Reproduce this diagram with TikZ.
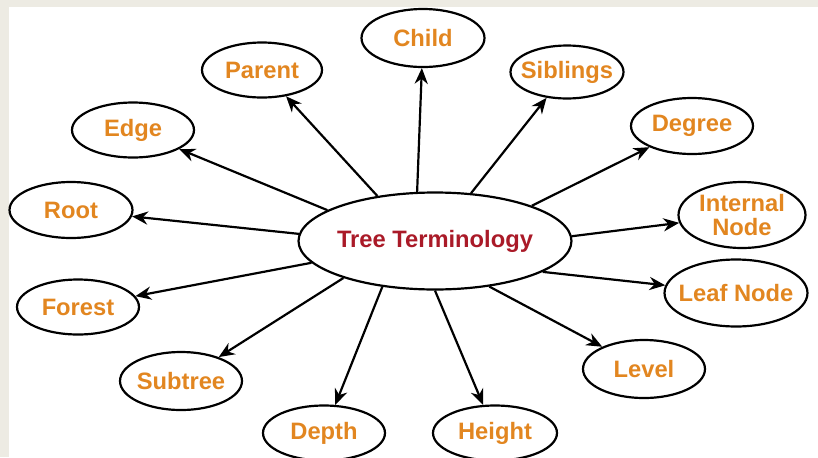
\documentclass[tikz,border=0pt]{standalone}
\usepackage{fontspec}
\setmainfont{Liberation Sans}
\usetikzlibrary{arrows.meta,shapes.geometric}

\definecolor{termorange}{RGB}{226,134,32}
\definecolor{termred}{RGB}{170,26,40}
\definecolor{pagegray}{RGB}{237,235,227}

\begin{document}
\begin{tikzpicture}[>={Stealth[length=9pt,width=7.5pt]}, x=0.02cm, y=-0.02cm,
  every node/.style={font=\bfseries\fontsize{13.5}{14}\selectfont},
  term/.style={ellipse, draw, line width=1.25pt, text=termorange,
    minimum width=2.44cm, minimum height=1.1cm, inner xsep=-20pt, inner ysep=-4pt, align=center}]
  \fill[pagegray] (0,0) rectangle (818,457);
  \fill[white] (9,7) rectangle (818,457);
  \useasboundingbox (0,0) rectangle (818,457);
  \node[ellipse, draw, line width=1.25pt, text=termred, minimum width=5.46cm,
    minimum height=1.94cm, inner xsep=-3pt, inner ysep=0pt] (tt) at (435,241) {Tree Terminology};
  \node[term, minimum width=2.46cm, minimum height=1.16cm] (child) at (423,38) {Child};
  \node[term, minimum width=2.4cm] (parent) at (262,70) {Parent};
  \node[term, minimum width=2.26cm, minimum height=1.06cm] (siblings) at (567,72) {Siblings};
  \node[term] (edge) at (133,130) {Edge};
  \node[term, minimum height=1.12cm] (degree) at (692,126) {Degree};
  \node[term, minimum width=2.46cm, minimum height=1.12cm] (root) at (71,210) {Root};
  \node[term, minimum width=2.54cm, minimum height=1.32cm] (internal) at (742,215) {Internal\\Node};
  \node[term] (forest) at (78,307) {Forest};
  \node[term, minimum width=2.86cm, minimum height=1.34cm] (leaf) at (736,293) {Leaf Node};
  \node[term, minimum height=1.16cm] (subtree) at (181,381) {Subtree};
  \node[term, minimum height=1.16cm] (level) at (644,369) {Level};
  \node[term, minimum height=1.1cm] (depth) at (324,433) {Depth};
  \node[term, minimum width=2.48cm, minimum height=1.1cm] (height) at (495,433) {Height};
  \foreach \a/\n in {110/child,142/parent,53/siblings,164/edge,20/degree,177/root,
    2/internal,190/forest,344/leaf,202/subtree,320/level,221/depth,270/height} {
    \draw[->, line width=1.25pt] (tt.\a) -- (\n);
  }
\end{tikzpicture}
\end{document}
